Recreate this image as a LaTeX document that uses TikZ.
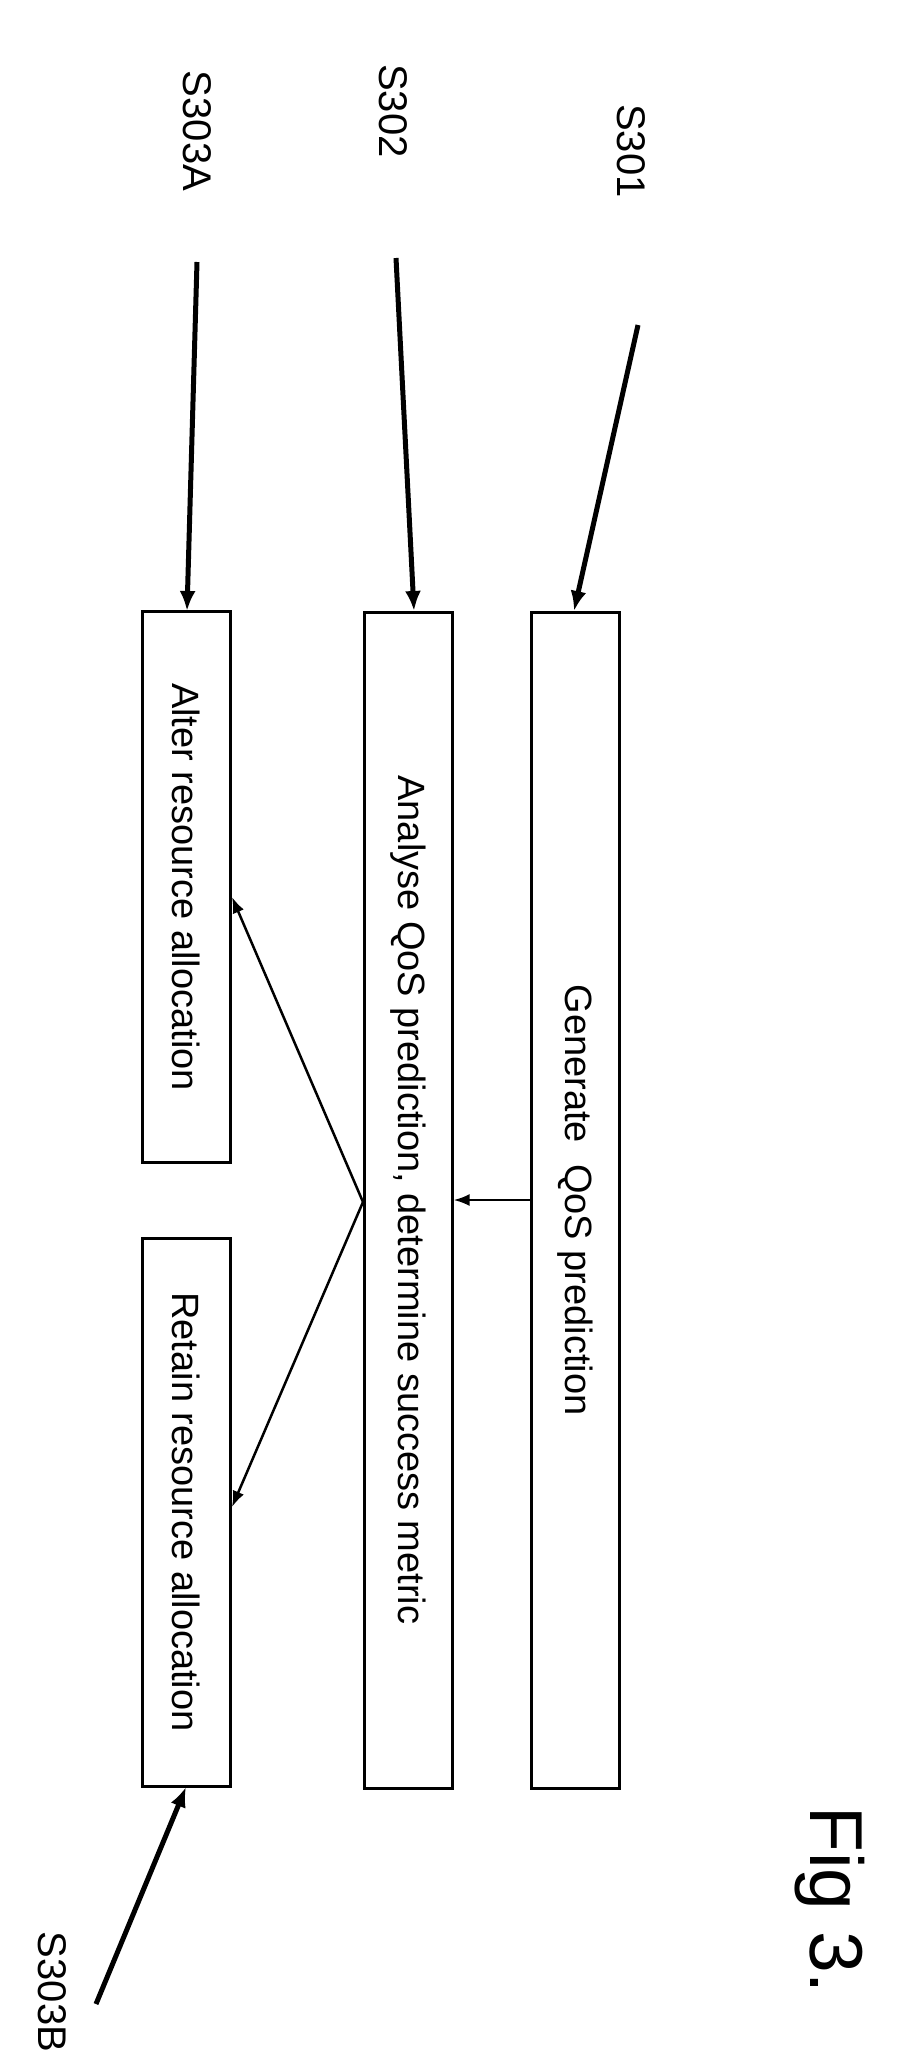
\documentclass[tikz,border=0pt]{standalone}
\usepackage{fontspec}
\setmainfont{Liberation Sans}
\usetikzlibrary{arrows.meta}
\tikzset{
  stepbox/.style={draw,line width=3pt,rotate=-90,minimum height=88pt,inner sep=0pt,font=\fontsize{38}{38}\selectfont},
  steplbl/.style={rotate=-90,font=\fontsize{40}{40}\selectfont},
  thin arrow/.style={line width=2.5pt,-{Latex[length=16pt,width=12pt]}},
  thick arrow/.style={line width=5pt,-{Latex[length=20pt,width=16pt]}}
}
\begin{document}
\begin{tikzpicture}[x=1pt,y=-1pt]
\useasboundingbox (0,0) rectangle (905,2066);
% boxes
\node (gen) [stepbox,minimum width=1176pt] at (575,1200) {Generate\ \ QoS prediction};
\node (ana) [stepbox,minimum width=1176pt] at (408,1200) {Analyse QoS prediction, determine success metric};
\node (alt) [stepbox,minimum width=551pt] at (186,887) {Alter resource allocation};
\node (ret) [stepbox,minimum width=548pt] at (186,1512) {Retain resource allocation};
% labels
\node (l1) [steplbl] at (631,151) {S301};
\node (l2) [steplbl] at (393,111) {S302};
\node (l3a) [steplbl] at (197,131) {S303A};
\node (l3b) [steplbl] at (52,1992) {S303B};
\node (fig) [rotate=-90,font=\fontsize{75}{75}\selectfont] at (830,1900) {Fig 3.};
% free ends
\coordinate (e1) at (638,325);
\coordinate (e2) at (396,258);
\coordinate (e3a) at (197,262);
\coordinate (e3b) at (96,2004);
\coordinate (fork) at (363,1202);
\draw[thick arrow] (e1) -- (574,611);
\draw[thick arrow] (e2) -- (414,611);
\draw[thick arrow] (e3a) -- (187,611);
\draw[thick arrow] (e3b) -- (186,1787);
\draw[thin arrow] (gen.south) -- (ana.north);
\draw[thin arrow] (fork) -- (232,897);
\draw[thin arrow] (fork) -- (232,1507);
\end{tikzpicture}
\end{document}
